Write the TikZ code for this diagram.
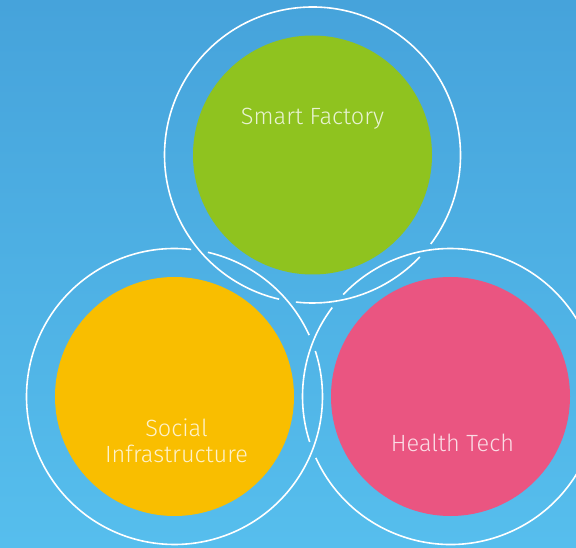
\documentclass[tikz,border=0pt]{standalone}
\usepackage{fontspec}
\setmainfont{Fira Sans Light}
\usetikzlibrary{positioning}

\definecolor{bgtop}{RGB}{70,163,219}
\definecolor{bgbottom}{RGB}{86,190,237}
\definecolor{factorygreen}{RGB}{143,195,31}
\definecolor{socialyellow}{RGB}{249,190,0}
\definecolor{healthpink}{RGB}{234,85,129}

\begin{document}
\begin{tikzpicture}[
            x = 1pt, y = 1pt,
            field/.style={
                circle,
                inner sep = 0pt,
                minimum size = 239pt
            },
            ring/.style = {draw = white, line width = 1.6pt},
            caption/.style = {
                text = white,
                text opacity = 0.8,
                align = center,
                font = \fontsize{23.5}{26}\selectfont
            }
        ]
        \shade[top color = bgtop, bottom color = bgbottom] (0,0) rectangle (576,547);
        \useasboundingbox (0,0) rectangle (576,547);

        \node[field, fill = factorygreen] (factory) at (312.5,392) {};
        \node[field, fill = socialyellow] (social) at (174.5,150.5) {};
        \node[field, fill = healthpink] (health) at (450.5,150.5) {};

        % outer rings, broken where they pass under another ring
        \def\gap{3.3}
        \foreach \c/\a/\b in {factory/260.25/319.74, social/21.2/80.26, health/139.74/201.2} {
            \draw[ring] (\c.center) ++(\a+\gap:148) arc[start angle = \a+\gap, end angle = \b-\gap, radius = 148pt];
            \draw[ring] (\c.center) ++(\b+\gap:148) arc[start angle = \b+\gap, end angle = \a-\gap+360, radius = 148pt];
        }

        \node[caption, anchor = base] (factory_title) at (312.5,422) {Smart Factory};
        \node[caption] (social_title) at (176.5,106) {Social\\Infrastructure};
        \node[caption, anchor = base] (health_title) at (452.5,95.5) {Health Tech};
    \end{tikzpicture}
\end{document}
